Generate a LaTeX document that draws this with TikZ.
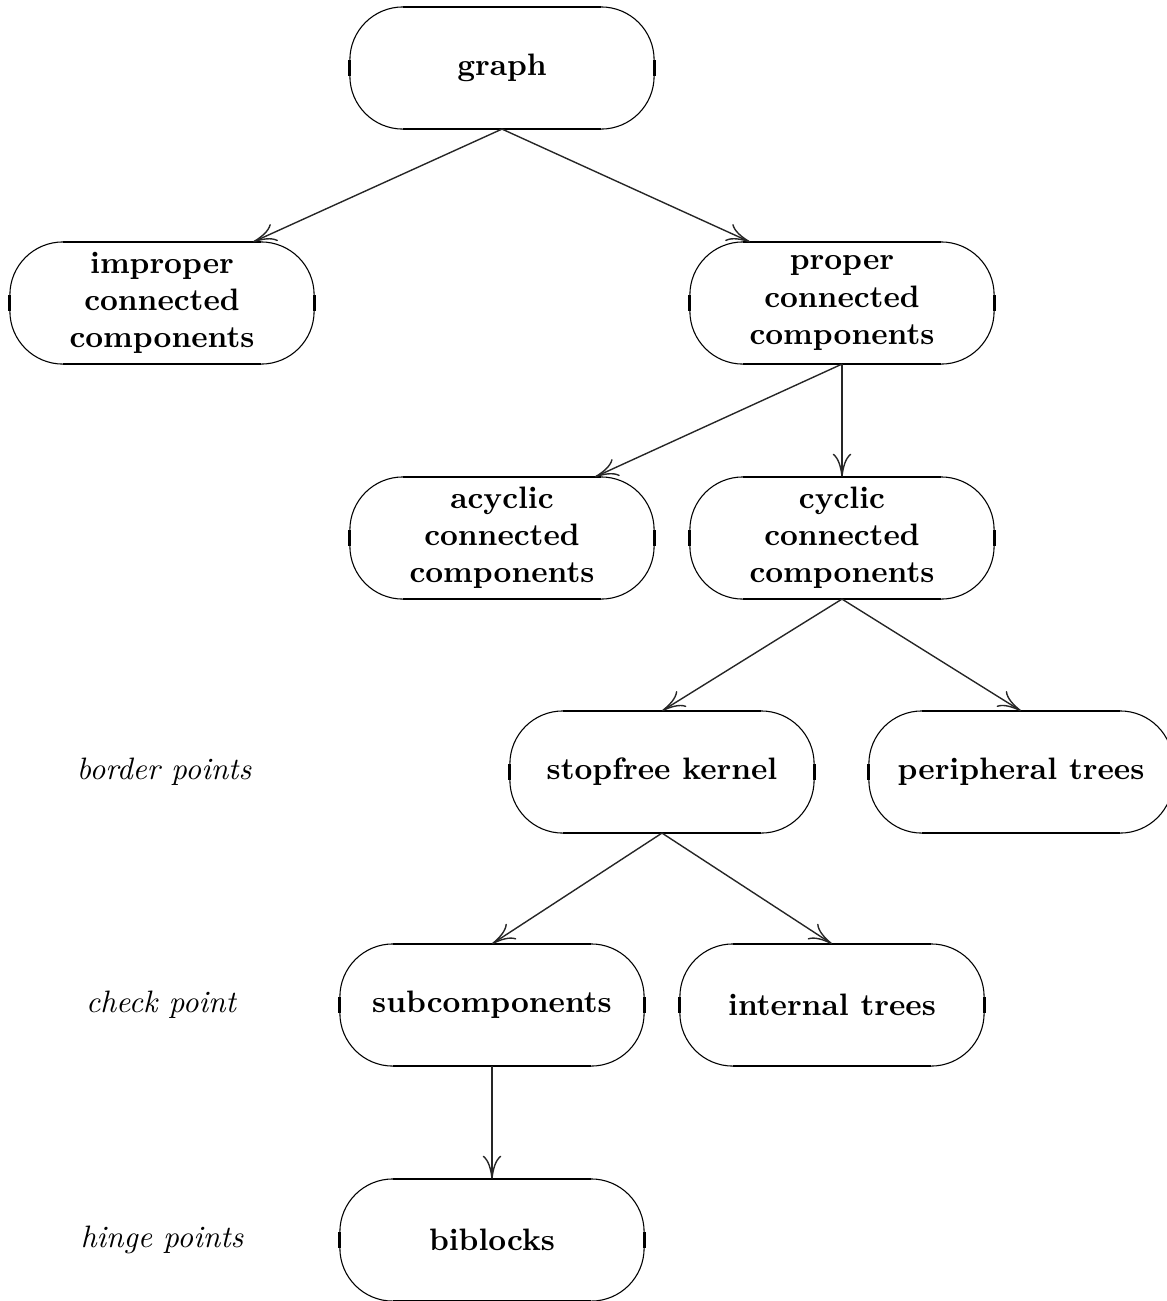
\documentclass[tikz,border=0pt]{standalone}
\usetikzlibrary{arrows.meta}

% frame of a stadium-shaped box: thin arcs, heavier straight sides
\newcommand\stadiumframe[1]{%
  \draw[line width=0.35pt, rounded corners=17.1pt] (#1.north west) rectangle (#1.south east);
  \draw[line width=0.9pt]
    ([xshift=17.1pt]#1.north west) -- ([xshift=-17.1pt]#1.north east)
    ([xshift=17.1pt]#1.south west) -- ([xshift=-17.1pt]#1.south east)
    ([yshift=-17.1pt]#1.north west) -- ([yshift=17.1pt]#1.south west)
    ([yshift=-17.1pt]#1.north east) -- ([yshift=17.1pt]#1.south east);
}

\tikzset{
  cbox/.style={minimum width=97.75pt, minimum height=39pt, inner sep=0pt,
               align=center, font=\bfseries},
  level/.style={font=\itshape},
  link/.style={draw=black!85, line width=0.45pt, -{To[length=7.5pt,width=6pt]}}
}

\begin{document}
\begin{tikzpicture}[x=0.3226pt, y=-0.3226pt]
  \useasboundingbox (0,0) rectangle (1167,1301);

  \node[cbox] (graph)      at (502,68)   {graph};
  \node[cbox] (improper)   at (162,303)  {improper\\connected\\components};
  \node[cbox] (proper)     at (842,303)  {proper\\connected\\components};
  \node[cbox] (acyclic)    at (502,538)  {acyclic\\connected\\components};
  \node[cbox] (cyclic)     at (842,538)  {cyclic\\connected\\components};
  \node[cbox] (kernel)     at (662,772)  {stopfree kernel};
  \node[cbox] (peripheral) at (1021,772) {peripheral trees};
  \node[cbox] (sub)        at (492,1005) {subcomponents};
  \node[cbox] (internal)   at (832,1005) {internal trees};
  \node[cbox] (biblocks)   at (492,1240) {biblocks};

  \foreach \n in {graph,improper,proper,acyclic,cyclic,kernel,peripheral,sub,internal,biblocks}
    {\stadiumframe{\n}}

  \node[level] (border) at (164,772)  {border points};
  \node[level] (check)  at (161,1005) {check point};
  \node[level] (hinge)  at (162,1240) {hinge points};

  \draw[link] (graph.south)  -- ([xshift=29.4pt]improper.north);
  \draw[link] (graph.south)  -- ([xshift=-29.7pt]proper.north);
  \draw[link] (proper.south) -- ([xshift=30pt]acyclic.north);
  \draw[link] (proper.south) -- (cyclic.north);
  \draw[link] (cyclic.south) -- (kernel.north);
  \draw[link] (cyclic.south) -- (peripheral.north);
  \draw[link] (kernel.south) -- (sub.north);
  \draw[link] (kernel.south) -- (internal.north);
  \draw[link] (sub.south)    -- (biblocks.north);
\end{tikzpicture}
\end{document}
